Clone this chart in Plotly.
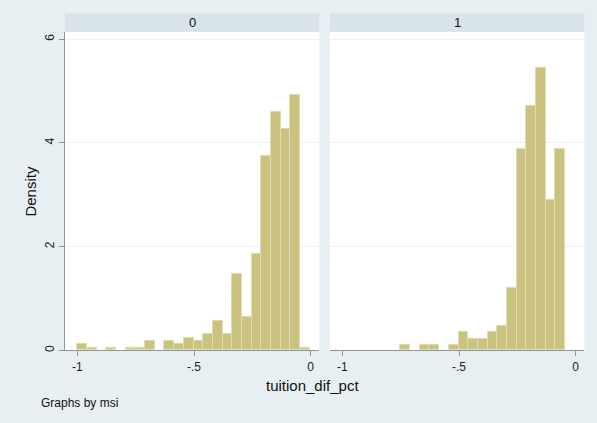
import plotly.graph_objects as go

# ---- data ----
panels = ["0", "1"]
bin_start = -1.0
bin_width = 0.0415
density_msi0 = [0.116, 0.045, 0.0, 0.045, 0.0, 0.045, 0.045, 0.18, 0.0, 0.18,
                0.116, 0.244, 0.18, 0.31, 0.566, 0.31, 1.48, 0.637, 1.87, 3.75,
                4.60, 4.28, 4.93, 0.045]
density_msi1 = [0.0, 0.0, 0.0, 0.0, 0.0, 0.0, 0.115, 0.0, 0.115, 0.115,
                0.0, 0.115, 0.36, 0.23, 0.23, 0.36, 0.48, 1.21, 3.88, 4.71,
                5.44, 2.91, 3.88, 0.0]
x_tickvals = [-1, -0.5, 0]
x_ticktext = ["-1", "-.5", "0"]
y_tickvals = [0, 2, 4, 6]
y_ticktext = ["0", "2", "4", "6"]

# ---- styling ----
W, H = 597, 423
BG = "#E8EFF2"
STRIP = "#D8E4EA"
BAR = "#C9C37F"
BAR_EDGE = "#E0DCAF"
GRID = "#EAF1F3"
AXIS = "#8E9599"
FONT = "Liberation Sans, Arial, sans-serif"

def px_x(p):
    return p / W

def px_y(p):
    return 1 - p / H

left_dom = [px_x(65), px_x(319.3)]
right_dom = [px_x(330), px_x(584.3)]
y_dom = [px_y(352), px_y(32)]
x_range = [-1.0527, 0.0368]
y_range = [0, 6.144]

fig = go.Figure()
for dens, xa, ya in [(density_msi0, "x", "y"), (density_msi1, "x2", "y2")]:
    centers = [bin_start + (i + 0.5) * bin_width for i in range(len(dens))]
    edge_w = [1 if d > 0 else 0 for d in dens]
    fig.add_trace(go.Bar(
        x=centers, y=dens, width=bin_width,
        marker=dict(color=BAR, line=dict(color=BAR_EDGE, width=edge_w)),
        xaxis=xa, yaxis=ya, showlegend=False, hoverinfo="skip",
    ))

xcommon = dict(range=x_range, showline=True, linecolor=AXIS, linewidth=1,
               ticks="outside", ticklen=5, tickcolor=AXIS,
               tickvals=x_tickvals, ticktext=x_ticktext, showgrid=False,
               zeroline=False, tickfont=dict(family=FONT, size=12, color="#222"),
               fixedrange=True)
fig.update_layout(
    width=W, height=H,
    margin=dict(l=0, r=0, t=0, b=0),
    paper_bgcolor=BG, plot_bgcolor="white",
    bargap=0,
    xaxis=dict(domain=left_dom, anchor="y", **xcommon),
    xaxis2=dict(domain=right_dom, anchor="y2", **xcommon),
    yaxis=dict(domain=y_dom, anchor="x", range=y_range, showline=True,
               linecolor=AXIS, linewidth=1, ticks="outside", ticklen=5,
               tickcolor=AXIS, tickvals=y_tickvals, ticktext=y_ticktext,
               tickangle=-90, showgrid=True, gridcolor=GRID, zeroline=False,
               tickfont=dict(family=FONT, size=12, color="#222")),
    yaxis2=dict(domain=y_dom, anchor="x2", range=y_range, showline=False,
                ticks="", showticklabels=False, tickvals=y_tickvals,
                showgrid=True, gridcolor=GRID, zeroline=False),
    font=dict(family=FONT, color="#111"),
)

# strip headers
for dom, label in [(left_dom, panels[0]), (right_dom, panels[1])]:
    fig.add_shape(type="rect", xref="paper", yref="paper",
                  x0=dom[0], x1=dom[1], y0=px_y(32), y1=px_y(13.3),
                  fillcolor=STRIP, line=dict(width=0), layer="below")
    fig.add_annotation(text=label, xref="paper", yref="paper",
                       x=(dom[0] + dom[1]) / 2, y=px_y(22.7),
                       showarrow=False, xanchor="center", yanchor="middle",
                       font=dict(family=FONT, size=13, color="#111"))

# axis titles and note
fig.add_annotation(text="Density", xref="paper", yref="paper",
                   x=px_x(30.5), y=px_y(192), textangle=-90, showarrow=False,
                   xanchor="center", yanchor="middle",
                   font=dict(family=FONT, size=15, color="#111"))
fig.add_annotation(text="tuition_dif_pct", xref="paper", yref="paper",
                   x=px_x(312), y=px_y(387.5), showarrow=False,
                   xanchor="center", yanchor="middle",
                   font=dict(family=FONT, size=15, color="#111"))
fig.add_annotation(text="Graphs by msi", xref="paper", yref="paper",
                   x=px_x(39), y=px_y(404.5), showarrow=False,
                   xanchor="left", yanchor="middle",
                   font=dict(family=FONT, size=12, color="#111"))

fig.write_html("out.html")
